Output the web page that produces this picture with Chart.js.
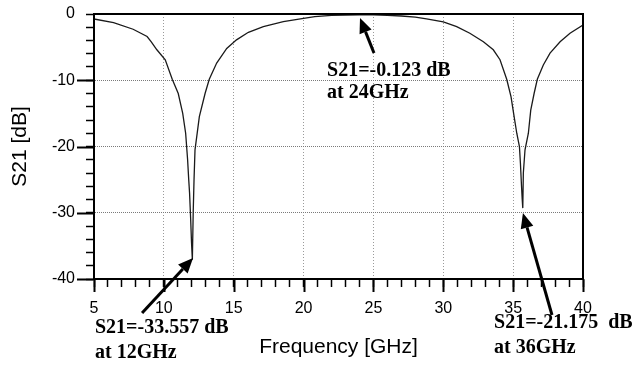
<!DOCTYPE html>
<html>
<head>
<meta charset="utf-8">
<script src="https://cdn.jsdelivr.net/npm/chart.js@4"></script>
<style>
  body { margin: 0; background: #fff; }
  #wrap { width: 632px; height: 370px; }
</style>
</head>
<body>
<div id="wrap"><canvas id="s21-chart" width="632" height="370"></canvas></div>
<script>
// Measured S21 curve (frequency in GHz, S21 in dB)
const freqGHz = [5, 6.4, 7.8, 8.8, 9.1, 9.5, 10.1, 10.6, 11.03, 11.35, 11.56, 11.7, 11.78, 11.84, 11.92, 11.98,
  12.04, 12.1, 12.16, 12.23, 12.54, 12.95, 13.25, 13.78, 14.5, 15.2, 16.05, 17.12, 18.55, 20, 20.8,
  22, 23, 24, 25, 26, 27, 28, 28.8, 30, 30.96, 31.9, 32.87, 33.58, 34.06, 34.54, 34.85, 35.07, 35.26,
  35.45, 35.52, 35.6, 35.65, 35.69, 35.73, 35.85, 36.09, 36.26, 36.5, 36.73, 37.16, 37.64, 38.36, 39.07, 40];
const s21dB = [-0.75, -1.3, -2.3, -3.4, -4.2, -5.4, -6.9, -9.85, -12, -15, -18, -22, -25, -27, -31, -34.5,
  -37.1, -30, -25, -20.5, -15.5, -12, -9.85, -7.4, -5.2, -3.9, -2.76, -1.9, -1.16, -0.65, -0.4,
  -0.22, -0.15, -0.12, -0.14, -0.2, -0.3, -0.48, -0.75, -1.2, -1.9, -2.9, -4.2, -5.4, -6.9, -9.85, -12.5, -15.5, -18,
  -20, -22.5, -26, -28, -29.3, -24, -20.5, -18, -14.5, -12, -9.85, -7.7, -5.9, -4.2, -2.9, -1.66];

// Marker notes: text lines, where the text starts and where the arrow points (data units)
const noteLines = [
  ['S21=-0.123 dB', 'at 24GHz'],
  ['S21=-33.557 dB', 'at 12GHz'],
  ['S21=-21.175  dB', 'at 36GHz'],
];
const noteTextAt = [[21.68, -9.36], [5.07, -48.15], [33.63, -47.4]];
const noteArrowTip = [[24.04, -0.6], [12.09, -36.83], [35.7, -30.04]];
const noteArrowTail = [[25.04, -5.89], [8.44, -45.13], [37.78, -45.43]];

const xMajor = v => v % 5 === 0;
const yMajor = v => v % 10 === 0;

function drawArrow(c, x1, y1, x2, y2) {
  const ang = Math.atan2(y2 - y1, x2 - x1);
  const len = 15, half = 6.5;
  const bx = x2 - len * Math.cos(ang), by = y2 - len * Math.sin(ang);
  c.beginPath();
  c.moveTo(x1, y1);
  c.lineTo(bx, by);
  c.lineWidth = 3;
  c.stroke();
  c.beginPath();
  c.moveTo(x2, y2);
  c.lineTo(bx + half * Math.sin(ang), by - half * Math.cos(ang));
  c.lineTo(bx - half * Math.sin(ang), by + half * Math.cos(ang));
  c.closePath();
  c.fill();
}

// frame, long major ticks and the marker notes
const extras = {
  id: 'extras',
  afterDraw(chart) {
    const c = chart.ctx;
    const a = chart.chartArea;
    const xs = chart.scales.x, ys = chart.scales.y;
    c.save();
    c.strokeStyle = '#000';
    c.fillStyle = '#000';

    c.lineWidth = 2;
    c.strokeRect(a.left, a.top, a.right - a.left, a.bottom - a.top);

    c.lineWidth = 2;
    c.beginPath();
    for (let v = 5; v <= 40; v += 5) {
      const px = Math.round(xs.getPixelForValue(v)) + 0.5;
      c.moveTo(px, a.bottom);
      c.lineTo(px, a.bottom + 13);
    }
    for (let v = -10; v >= -40; v -= 10) {
      const py = Math.round(ys.getPixelForValue(v)) + 0.5;
      c.moveTo(a.left, py);
      c.lineTo(a.left - 17, py);
    }
    c.stroke();

    c.font = 'bold 20px "Liberation Serif", "Times New Roman", serif';
    c.textAlign = 'left';
    c.textBaseline = 'alphabetic';
    noteLines.forEach((lines, i) => {
      const tx = xs.getPixelForValue(noteTextAt[i][0]);
      const ty = ys.getPixelForValue(noteTextAt[i][1]);
      const gap = i === 0 ? 22 : 25;
      lines.forEach((t, j) => c.fillText(t, tx, ty + j * gap));
      drawArrow(c,
        xs.getPixelForValue(noteArrowTail[i][0]), ys.getPixelForValue(noteArrowTail[i][1]),
        xs.getPixelForValue(noteArrowTip[i][0]), ys.getPixelForValue(noteArrowTip[i][1]));
    });
    c.restore();
  },
};

const tickFont = { family: '"Liberation Sans", Arial, sans-serif', size: 16 };
const titleFont = { family: '"Liberation Sans", Arial, sans-serif', size: 21 };

new Chart(document.getElementById('s21-chart').getContext('2d'), {
  type: 'line',
  data: {
    datasets: [{
      data: freqGHz.map((f, i) => ({ x: f, y: s21dB[i] })),
      borderColor: '#1a1a1a',
      borderWidth: 1.3,
      pointRadius: 0,
      tension: 0,
      fill: false,
    }],
  },
  options: {
    responsive: false,
    animation: false,
    layout: { padding: { left: 0, right: 49, top: 14, bottom: 0 } },
    plugins: { legend: { display: false }, tooltip: { enabled: false } },
    scales: {
      x: {
        type: 'linear',
        min: 5,
        max: 40,
        afterFit(scale) {
          scale.height = 91;
          scale.paddingLeft = 0;
          scale.paddingRight = 0;
        },
        ticks: {
          stepSize: 1,
          autoSkip: false,
          maxRotation: 0,
          padding: 12,
          color: '#000',
          font: tickFont,
          callback: v => (xMajor(v) ? String(v) : ''),
        },
        grid: {
          color: ctx => (xMajor(ctx.tick.value) && ctx.tick.value > 5 && ctx.tick.value < 40 ? '#9a9a9a' : 'rgba(0,0,0,0)'),
          lineWidth: 1,
          tickLength: 8,
          tickColor: '#000',
          tickWidth: 1.5,
        },
        border: { display: true, color: '#000', width: 2, dash: [1, 2] },
        title: {
          display: true,
          text: 'Frequency [GHz]',
          color: '#000',
          font: titleFont,
          padding: { top: 0, bottom: 10 },
        },
      },
      y: {
        min: -40,
        max: 0,
        afterFit(scale) {
          scale.width = 94;
          scale.paddingTop = 0;
          scale.paddingBottom = 0;
        },
        ticks: {
          stepSize: 2,
          autoSkip: false,
          padding: 11,
          color: '#000',
          font: tickFont,
          callback: v => (yMajor(v) ? String(v) : ''),
        },
        grid: {
          color: ctx => (yMajor(ctx.tick.value) && ctx.tick.value > -40 && ctx.tick.value < 0 ? '#7a7a7a' : 'rgba(0,0,0,0)'),
          lineWidth: 1,
          tickLength: 8,
          tickColor: '#000',
          tickWidth: 1.5,
        },
        border: { display: true, color: '#000', width: 2, dash: [1, 1] },
        title: {
          display: true,
          text: 'S21 [dB]',
          color: '#000',
          font: titleFont,
          padding: { top: 8, bottom: 0 },
        },
      },
    },
  },
  plugins: [extras],
});
</script>
</body>
</html>
